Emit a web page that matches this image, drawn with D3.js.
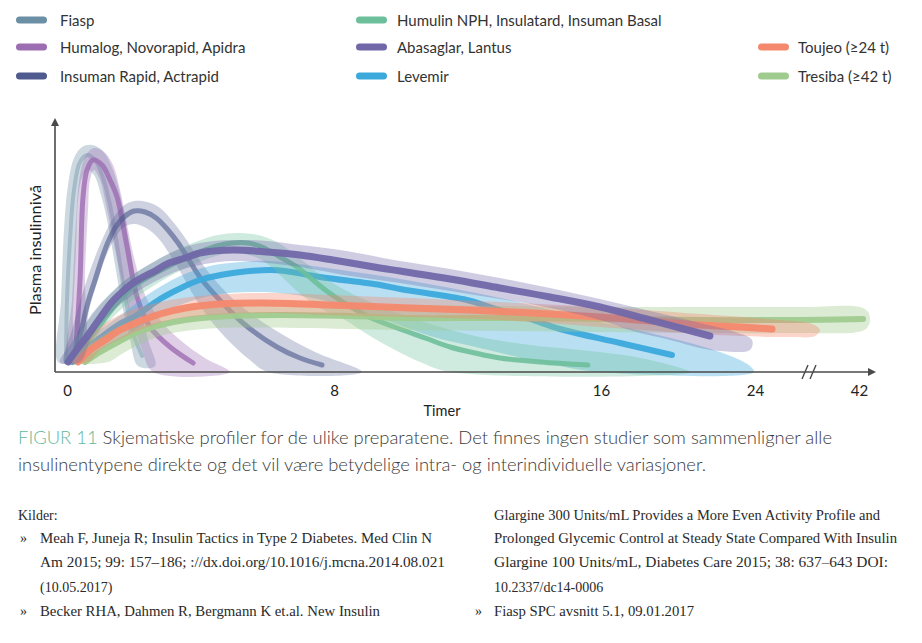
<!DOCTYPE html>
<html><head><meta charset="utf-8">
<script src="https://cdn.jsdelivr.net/npm/d3@7/dist/d3.min.js"></script>
<style>body{margin:0;background:#fff}svg{display:block}</style>
</head><body>
<svg id="c" width="922" height="643"></svg>
<script>
// ---------- DATA ----------
const legendLabels = ["Fiasp","Humalog, Novorapid, Apidra","Insuman Rapid, Actrapid",
  "Humulin NPH, Insulatard, Insuman Basal","Abasaglar, Lantus","Levemir",
  "Toujeo (\u226524 t)","Tresiba (\u226542 t)"];
const legendColors = ["#6b8fa4","#9d6db3","#4f5a8e","#6dbf9b","#7167a9","#3ca9dc","#f4896e","#a0cb8f"];
const legendCol = [0,0,0,1,1,1,2,2];
const legendRow = [0,1,2,0,1,2,1,2];

const xTickValues = [0,8,16,24,42];
const xTitle = "Timer";
const yTitle = "Plasma insulinniv\u00e5";

// [hours, level] center lines
const fiaspLine = [[0,6],[0.03,36],[0.12,66],[0.24,91],[0.42,105],[0.63,108.5],[0.87,106],[1.11,97],[1.32,83.5],[1.53,63.5],[1.74,41],[1.98,21],[2.28,8]];
const humalogLine = [[0.27,6],[0.42,46],[0.51,87.5],[0.63,101],[0.81,106],[1.08,103.5],[1.32,96],[1.53,87.5],[1.83,62.5],[2.13,37.5],[2.52,22.5],[3.12,12.5],[3.81,4.5]];
const insumanLine = [[0.18,5],[0.42,18.5],[0.66,35],[0.87,46],[1.08,57],[1.26,65],[1.47,72],[1.74,77.5],[2.04,80.5],[2.37,80],[2.70,77],[3.03,71.5],[3.36,64.5],[3.63,57.5],[4.01,47.5],[4.52,37.5],[5.3,24.5],[6.32,12.5],[7.01,7],[7.67,3.5]];
const humulinLine = [[0.18,5],[0.57,13.5],[1.02,23.5],[1.53,34.5],[2.01,42.5],[2.52,48],[3.03,52.5],[3.57,57],[4.01,60],[4.52,63],[5.0,64.5],[5.45,64.5],[5.87,62.5],[6.41,57.5],[6.92,52.5],[7.40,46],[7.85,40],[8.30,35],[9.02,28],[9.92,22],[10.76,17],[11.51,12.5],[12.25,9.5],[13.0,7],[14.2,5],[15.64,3.5]];
const abasaglarLine = [[0.06,5],[0.36,12],[0.66,18.5],[1.02,27],[1.35,34.5],[1.68,40],[2.01,44.5],[2.37,48],[2.67,50.5],[3.03,54],[3.57,57],[4.01,59.5],[5.0,61],[6.02,60],[7.01,58.5],[8.0,56],[9.41,52],[10.01,50.5],[11.51,46.5],[13.0,42],[14.5,37.5],[16.0,32.5],[18.6,26],[20.16,22],[21.71,18]];
const levemirLine = [[0.18,5],[0.57,11],[1.02,17],[1.56,23.5],[2.13,28.5],[2.82,36.5],[3.51,42.5],[4.01,46],[5.0,49.5],[6.11,51],[6.56,50.5],[7.61,47.5],[9.41,43.5],[10.01,41.5],[12.01,36],[12.70,32.5],[13.90,26.5],[14.80,21.5],[17.04,14.5],[19.74,8.5]];
const toujeoLine = [[0.36,5],[0.72,11],[1.17,16],[1.62,21],[2.16,25],[2.82,29],[3.57,32],[4.61,34],[5.90,34.5],[7.91,33.5],[10.31,32],[12.10,31],[13.99,29.5],[16.0,27.5],[18.6,25.5],[21.19,23.5],[23.27,22.5],[27.12,21.5]];
const tresibaLine = [[0.57,5],[1.02,10],[1.56,15],[2.16,20],[2.82,23.5],[3.57,26],[4.91,28],[6.41,28.5],[8.51,28],[10.31,27],[13.0,27],[16.0,26.5],[21.19,26],[31.96,26],[42.87,26.5]];

// [hours, level] variability band outlines (closed)
const fiaspBand = [[-0.24,5],[-0.15,36],[-0.06,71],[0.06,93.5],[0.24,107],[0.48,112.5],[0.78,113.5],[1.08,111],[1.35,103.5],[1.59,91],[1.8,73.5],[2.01,53.5],[2.22,33.5],[2.46,16],[2.67,3],
  [2.16,3],[1.92,16],[1.68,33.5],[1.47,53.5],[1.26,73.5],[1.05,88.5],[0.84,98.5],[0.66,101],[0.48,97],[0.36,86],[0.3,61],[0.21,31],[0.12,5]];
const humalogBand = [[0.06,5],[0.18,36],[0.30,76],[0.42,98.5],[0.6,108.5],[0.84,112],[1.14,110],[1.41,103.5],[1.62,91],[1.83,73.5],[2.07,55],[2.37,38.5],[2.82,26],[3.42,16],[4.16,7],[4.91,0],
  [2.61,0],[2.28,11],[1.98,26],[1.71,43.5],[1.44,63.5],[1.2,83.5],[1.02,96],[0.84,101],[0.72,96],[0.66,81],[0.57,51],[0.48,5]];
const insumanBand = [[-0.06,5],[0.18,21],[0.48,38.5],[0.78,53.5],[1.08,66],[1.38,76],[1.71,83],[2.04,85.5],[2.43,85],[2.82,82],[3.21,75],[3.57,67],[3.96,57],[4.46,46],[5.21,33.5],[6.26,21],[7.46,10],[8.87,0],
  [6.05,0],[5.51,6],[4.91,15],[4.37,25],[3.87,37],[3.48,48.5],[3.12,58.5],[2.76,67],[2.40,72],[2.04,74],[1.74,72.5],[1.47,67],[1.20,58],[0.96,46],[0.69,31],[0.42,5]];
const humulinBand = [[-0.06,5],[0.27,16],[0.72,27],[1.26,38],[1.86,47],[2.52,54],[3.18,60],[3.87,65],[4.55,68.5],[5.21,69.5],[5.87,68],[6.47,63.5],[7.07,56],[7.67,48],[8.36,41],[9.11,35],[10.01,29],[11.21,22.5],[12.40,17.5],[13.90,13.5],[15.40,11],[17.56,8],[19.64,3.5],[20.68,0],
  [11.51,0],[10.61,5],[9.86,11],[9.11,18],[8.36,26],[7.61,32],[6.95,40],[6.41,48.5],[5.87,56],[5.36,59],[4.91,59.5],[4.31,57],[3.72,53],[3.12,48],[2.52,42],[1.92,35],[1.38,27],[0.96,18.5],[0.60,5]];
const abasaglarBand = [[-0.18,5],[0.12,13.5],[0.48,22],[0.87,31],[1.32,39],[1.86,47],[2.52,54],[3.27,60.5],[4.01,64.5],[5.0,66],[6.02,65.5],[7.01,63.5],[8.21,61],[10.01,55.5],[11.51,51.5],[13.0,47],[14.5,42],[16.0,36.5],[18.6,30.5],[21.19,24.5],[23.01,20],[23.9,16],
  [23.79,11],[22.23,10.5],[21.19,12],[19.64,16],[17.71,20.5],[16.0,26],[14.5,32],[13.0,36.5],[11.51,40.5],[10.01,44.5],[8.51,48],[7.01,52.5],[6.02,54.5],[5.0,55.5],[4.16,54],[3.42,51],[2.82,46.5],[2.22,41],[1.68,34.5],[1.2,27],[0.78,18],[0.42,5]];
const levemirBand = [[-0.06,5],[0.42,13],[1.02,21],[1.77,30],[2.52,39.5],[3.42,48],[4.31,53],[5.21,55],[6.11,55.5],[7.61,52.5],[10.01,46.5],[13.0,37],[16.0,25],[18.6,19.5],[20.68,14.5],[22.23,10],[23.27,6],[23.79,3],[24,0],
  [16,0],[14.2,5],[12.4,12],[10.91,18],[9.41,27],[7.91,35],[6.71,39],[5.51,40],[4.46,38.5],[3.57,34.5],[2.82,29],[2.07,21],[1.32,13],[0.66,5]];
const toujeoBand = [[0.06,5],[0.36,13.5],[0.78,19.5],[1.32,26],[1.98,31],[2.82,35],[3.72,37.5],[4.91,39],[6.11,39.5],[7.91,38.5],[10.31,37],[13.0,35],[16.0,32.5],[21.19,29],[28.5,26],[34.04,24],[35.42,21],
  [34.56,18],[30.23,17.5],[23.27,18],[21.19,19],[16.0,22.5],[13.0,26],[10.31,27.5],[7.91,28.5],[6.11,29.5],[4.91,29],[4.01,28],[3.12,26],[2.37,22],[1.68,17],[1.02,11],[0.66,5]];
const tresibaBand = [[0.18,5],[0.57,12],[1.08,18],[1.68,23.5],[2.37,28],[3.27,31.5],[4.61,33.5],[7.01,34],[10.01,33.5],[13.0,33],[16.0,32.5],[21.19,32.5],[31.96,32.5],[42.35,32.5],[43.73,30],[44.08,26],
  [43.56,22],[42.0,20],[31.96,19.5],[21.19,19.5],[16.0,20],[13.0,20.5],[10.01,21],[7.01,22],[4.61,22],[3.57,20.5],[2.82,18],[2.22,14],[1.62,8.5],[1.26,5]];

const captionLead = "FIGUR 11";
const captionLines = ["Skjematiske profiler for de ulike preparatene. Det finnes ingen studier som sammenligner alle",
  "insulinentypene direkte og det vil være betydelige intra- og interindividuelle variasjoner."];
const sourcesLeft = ["Kilder:","Meah F, Juneja R; Insulin Tactics in Type 2 Diabetes. Med Clin N",
  "Am 2015; 99: 157\u2013186; ://dx.doi.org/10.1016/j.mcna.2014.08.021","(10.05.2017)",
  "Becker RHA, Dahmen R, Bergmann K et.al. New Insulin"];
const sourcesRight = ["Glargine 300 Units/mL Provides a More Even Activity Profile and",
  "Prolonged Glycemic Control at Steady State Compared With Insulin",
  "Glargine 100 Units/mL, Diabetes Care 2015; 38: 637\u2013643 DOI:",
  "10.2337/dc14-0006","Fiasp SPC avsnitt 5.1, 09.01.2017"];

// ---------- DRAW ----------
const svg = d3.select("#c");
svg.append("rect").attr("width",922).attr("height",643).attr("fill","#fff");

const x = d3.scaleLinear().domain([0,16,24,42]).range([66,600,754,858]);
const y = d3.scaleLinear().domain([0,110]).range([372,152]);

const lineGen = d3.line().x(d=>x(d[0])).y(d=>y(d[1])).curve(d3.curveCatmullRom.alpha(0.5));
const bandGen = d3.line().x(d=>x(d[0])).y(d=>y(d[1])).curve(d3.curveCatmullRomClosed.alpha(0.5));

// drawing order (bottom -> top)
const series = [
  {band:fiaspBand, line:fiaspLine, c:0, bo:0.34, lw:4, lo:0.4},
  {band:humalogBand, line:humalogLine, c:1, bo:0.33, lw:5, lo:0.8},
  {band:insumanBand, line:insumanLine, c:2, bo:0.28, lw:5, lo:0.62},
  {band:levemirBand, line:levemirLine, c:5, bo:0.36, lw:6, lo:0.95},
  {band:humulinBand, line:humulinLine, c:3, bo:0.33, lw:5, lo:0.9},
  {band:tresibaBand, line:tresibaLine, c:7, bo:0.38, lw:6, lo:0.95},
  {band:toujeoBand, line:toujeoLine, c:6, bo:0.36, lw:7, lo:0.95},
  {band:abasaglarBand, line:abasaglarLine, c:4, bo:0.33, lw:7, lo:0.95}
];
const plot = svg.append("g");
series.forEach(s=>{
  plot.append("path").attr("d",bandGen(s.band)).attr("fill",legendColors[s.c]).attr("fill-opacity",s.bo);
  plot.append("path").attr("d",lineGen(s.line)).attr("fill","none").attr("stroke",legendColors[s.c])
    .attr("stroke-opacity",s.lo).attr("stroke-width",s.lw).attr("stroke-linecap","round");
});

// axes
const axCol = "#4a4a4a";
svg.append("line").attr("x1",55).attr("x2",55).attr("y1",372).attr("y2",121).attr("stroke",axCol).attr("stroke-width",1.6);
svg.append("path").attr("d","M51,126 L55,118 L59,126 Z").attr("fill",axCol);
svg.append("line").attr("x1",55).attr("x2",873).attr("y1",372).attr("y2",372).attr("stroke",axCol).attr("stroke-width",1.6);
svg.append("path").attr("d","M868,368 L876,372 L868,376 Z").attr("fill",axCol);
svg.append("line").attr("x1",802).attr("y1",379).attr("x2",808).attr("y2",365).attr("stroke",axCol).attr("stroke-width",1.4);
svg.append("line").attr("x1",810).attr("y1",379).attr("x2",816).attr("y2",365).attr("stroke",axCol).attr("stroke-width",1.4);

const xAxis = d3.axisBottom(x).tickValues(xTickValues).tickSize(0).tickPadding(13).tickFormat(d3.format("d"));
const gx = svg.append("g").attr("transform","translate(1,372)").call(xAxis);
gx.select(".domain").remove();
gx.selectAll("text").attr("font-family","Lato, 'Open Sans', sans-serif").attr("font-size",15).attr("fill","#222");

svg.append("text").attr("x",442).attr("y",416).attr("text-anchor","middle")
  .attr("font-family","Lato, 'Open Sans', sans-serif").attr("font-size",14.5).attr("fill","#222").text(xTitle);
svg.append("text").attr("transform","translate(41,250) rotate(-90)").attr("text-anchor","middle")
  .attr("font-family","Lato, 'Open Sans', sans-serif").attr("font-size",15.5).attr("fill","#222")
  .attr("textLength",130).attr("lengthAdjust","spacingAndGlyphs").text(yTitle);

// legend
const colSwX = [16,356,758], colTxX = [60,397,798], rowY = [20,47,76];
legendLabels.forEach((lab,i)=>{
  const sx = colSwX[legendCol[i]], ry = rowY[legendRow[i]];
  svg.append("rect").attr("x",sx).attr("y",ry-3.5).attr("width",31).attr("height",7).attr("rx",3.5)
    .attr("fill",legendColors[i]);
  svg.append("text").attr("x",colTxX[legendCol[i]]).attr("y",ry+5.5)
    .attr("font-family","Lato, 'Open Sans', sans-serif").attr("font-size",15).attr("fill","#333").text(lab);
});

// caption
const cap = svg.append("text").attr("x",18).attr("y",444).attr("font-family","Lato, 'Open Sans', sans-serif")
  .attr("font-size",17).attr("font-weight",300).attr("fill","#3a3a3a");
cap.append("tspan").attr("fill","#5fb89c").text(captionLead + " ");
cap.append("tspan").text(captionLines[0]);
svg.append("text").attr("x",18).attr("y",471).attr("font-family","Lato, 'Open Sans', sans-serif")
  .attr("font-size",17).attr("font-weight",300).attr("fill","#3a3a3a")
  .attr("textLength",688).attr("lengthAdjust","spacingAndGlyphs").text(captionLines[1]);
cap.attr("textLength",814).attr("lengthAdjust","spacingAndGlyphs");

// sources
const serif = "'Liberation Serif','DejaVu Serif',serif";
const lY = [520,543,567,592,616];
const lLen = [null,392,405,null,340];
sourcesLeft.forEach((t,i)=>{
  const tx = svg.append("text").attr("x",i===0?18:40).attr("y",lY[i]).attr("font-family",serif)
    .attr("font-size",14).attr("fill","#2a2a2a").text(t);
  if(lLen[i]) tx.attr("textLength",lLen[i]).attr("lengthAdjust","spacingAndGlyphs");
});
[1,4].forEach(i=>svg.append("text").attr("x",20).attr("y",lY[i]).attr("font-family",serif)
  .attr("font-size",14).attr("fill","#2a2a2a").text("\u00bb"));
const rLen = [386,403,394,null,200];
sourcesRight.forEach((t,i)=>{
  const tx = svg.append("text").attr("x",494).attr("y",lY[i]).attr("font-family",serif)
    .attr("font-size",14).attr("fill","#2a2a2a").text(t);
  if(rLen[i]) tx.attr("textLength",rLen[i]).attr("lengthAdjust","spacingAndGlyphs");
});
svg.append("text").attr("x",475).attr("y",lY[4]).attr("font-family",serif)
  .attr("font-size",14).attr("fill","#2a2a2a").text("\u00bb");
</script>
</body></html>
